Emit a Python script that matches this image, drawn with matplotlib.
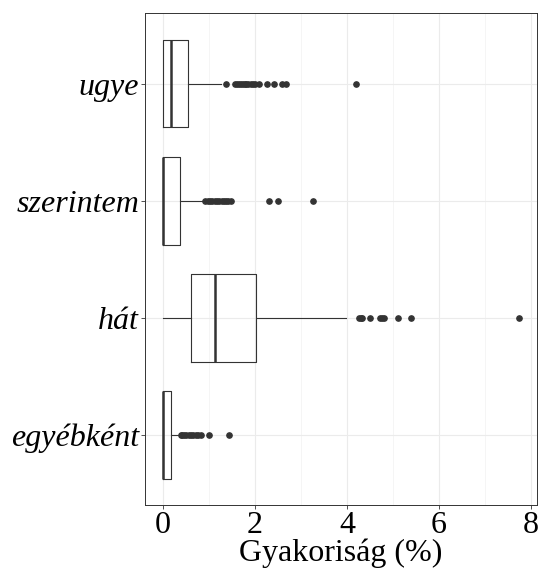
import matplotlib
matplotlib.use('Agg')
import matplotlib.pyplot as plt
from matplotlib.ticker import MultipleLocator

plt.rcParams['font.family'] = ['Liberation Serif', 'DejaVu Serif']

# categories from top to bottom
categories = ['ugye', 'szerintem', 'hát', 'egyébként']
q1 = [0.00, 0.01, 0.62, 0.00]
median = [0.19, 0.02, 1.13, 0.00]
q3 = [0.55, 0.38, 2.02, 0.18]
whis_lo = [0.00, 0.00, 0.00, 0.00]
whis_hi = [1.26, 0.90, 3.99, 0.37]
outliers = [
    [1.37, 1.58, 1.62, 1.66, 1.70, 1.74, 1.78, 1.82, 1.86, 1.91, 1.96, 2.01,
     2.09, 2.26, 2.42, 2.60, 2.67, 4.19],
    [0.93, 0.98, 1.03, 1.08, 1.13, 1.18, 1.23, 1.28, 1.33, 1.38, 1.43, 1.49,
     2.32, 2.51, 3.27],
    [4.26, 4.30, 4.33, 4.51, 4.71, 4.76, 4.80, 5.11, 5.39, 7.73],
    [0.39, 0.43, 0.47, 0.50, 0.57, 0.62, 0.67, 0.72, 0.77, 0.83, 1.00, 1.45],
]
x_ticks = [0, 2, 4, 6, 8]

stats = []
for i, name in enumerate(categories):
    stats.append({'label': name, 'q1': q1[i], 'med': median[i], 'q3': q3[i],
                  'whislo': whis_lo[i], 'whishi': whis_hi[i], 'fliers': outliers[i]})

line_col = '#333333'
fig = plt.figure(figsize=(5.39, 5.72), dpi=100)
ax = fig.add_axes([0.2685, 0.1171, 0.7273, 0.8596])

positions = [len(categories) - i for i in range(len(categories))]
ax.bxp(stats, positions=positions, vert=False, widths=0.75, showcaps=False,
       boxprops=dict(color=line_col, linewidth=0.8),
       whiskerprops=dict(color=line_col, linewidth=0.8),
       medianprops=dict(color=line_col, linewidth=1.8),
       flierprops=dict(marker='o', markerfacecolor=line_col, markeredgecolor=line_col,
                       markersize=3.8, linestyle='none'),
       zorder=3)

ax.set_xlim(-0.387, 8.12)
ax.set_ylim(0.4, 4.6)
ax.set_xticks(x_ticks)
ax.xaxis.set_minor_locator(MultipleLocator(1))
ax.set_yticks(positions)
ax.set_yticklabels(categories, fontstyle='italic', fontsize=23)
ax.tick_params(axis='x', labelsize=23, length=3, width=0.6, color=line_col, pad=1)
ax.tick_params(axis='y', length=3, width=0.6, color=line_col, pad=1)
ax.tick_params(which='minor', length=0)

ax.grid(True, which='major', color='#ebebeb', linewidth=0.8, zorder=0)
ax.grid(True, which='minor', axis='x', color='#f2f2f2', linewidth=0.5, zorder=0)
ax.set_axisbelow(True)
for s in ax.spines.values():
    s.set_color(line_col)
    s.set_linewidth(0.7)

ax.set_xlabel('Gyakoriság (%)', fontsize=23, labelpad=-1)

fig.savefig('out.png', dpi=100)
